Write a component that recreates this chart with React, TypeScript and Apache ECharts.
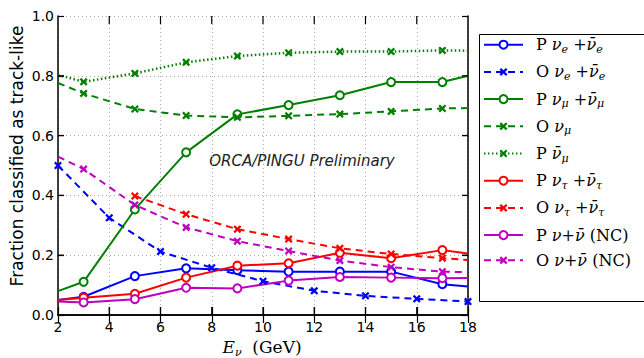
import React, { useEffect, useRef } from "react";
import * as echarts from "echarts";

// x positions
const xOdd = [2, 3, 5, 7, 9, 11, 13, 15, 17, 18];
const xEven = [2, 4, 6, 8, 10, 12, 14, 16, 18];
const xTauO = [5, 7, 9, 11, 13, 15, 17, 18];

// tick values (for inward tick marks on all four sides)
const xTicks = [4, 6, 8, 10, 12, 14, 16];
const yTicks = [0.2, 0.4, 0.6, 0.8];

// series values
const pNue = [0.05, 0.061, 0.13, 0.156, 0.15, 0.145, 0.145, 0.145, 0.103, 0.095];
const oNue = [0.5, 0.325, 0.212, 0.158, 0.113, 0.081, 0.064, 0.054, 0.045];
const pNumu = [0.08, 0.111, 0.353, 0.544, 0.671, 0.702, 0.735, 0.779, 0.779, 0.8];
const oNumu = [0.776, 0.741, 0.689, 0.667, 0.661, 0.666, 0.672, 0.681, 0.691, 0.692];
const pNumubar = [0.803, 0.78, 0.808, 0.845, 0.866, 0.877, 0.881, 0.881, 0.885, 0.884];
const pNutau = [0.05, 0.058, 0.071, 0.125, 0.165, 0.173, 0.208, 0.19, 0.217, 0.206];
const oNutau = [0.398, 0.337, 0.287, 0.254, 0.223, 0.204, 0.19, 0.184];
const pNc = [0.045, 0.042, 0.053, 0.091, 0.089, 0.115, 0.127, 0.125, 0.123, 0.124];
const oNc = [0.53, 0.488, 0.368, 0.293, 0.247, 0.214, 0.182, 0.16, 0.145, 0.143];

const legendNames = [
  "P_nue", "O_nue", "P_numu", "O_numu", "P_numubar", "P_nutau", "O_nutau", "P_nc", "O_nc",
];
const legendLabels: Record<string, string> = {
  P_nue: "{g|}{t|P }{i|ν}{s|e}{t| +}{i|ν̄}{s|e}",
  O_nue: "{g|}{t|O }{i|ν}{s|e}{t| +}{i|ν̄}{s|e}",
  P_numu: "{g|}{t|P }{i|ν}{s|μ}{t| +}{i|ν̄}{s|μ}",
  O_numu: "{g|}{t|O }{i|ν}{s|μ}",
  P_numubar: "{g|}{t|P }{i|ν̄}{s|μ}",
  P_nutau: "{g|}{t|P }{i|ν}{s|τ}{t| +}{i|ν̄}{s|τ}",
  O_nutau: "{g|}{t|O }{i|ν}{s|τ}{t| +}{i|ν̄}{s|τ}",
  P_nc: "{g|}{t|P }{i|ν}{t|+}{i|ν̄}{t| (NC)}",
  O_nc: "{g|}{t|O }{i|ν}{t|+}{i|ν̄}{t| (NC)}",
};

const X_SYMBOL =
  "path://M0,2 L2,0 L5,3 L8,0 L10,2 L7,5 L10,8 L8,10 L5,7 L2,10 L0,8 L3,5 Z";

function pairs(xs: number[], ys: number[], edgeNoSymbol: boolean) {
  return ys.map((y, i) => {
    const isEdge = i === 0 || i === ys.length - 1;
    if (edgeNoSymbol && isEdge) return { value: [xs[i], y], symbol: "none" };
    return { value: [xs[i], y] };
  });
}

const BLUE = "#0000ff";
const GREEN = "#008000";
const RED = "#ff0000";
const MAG = "#bf00bf";

function mk(name: string, color: string, data: any[], kind: "P" | "O" | "dot") {
  const base: any = {
    name,
    type: "line",
    data,
    color,
    clip: true,
    xAxisIndex: 0,
    yAxisIndex: 0,
  };
  if (kind === "P") {
    base.symbol = "emptyCircle";
    base.symbolSize = 8;
    base.itemStyle = { color, borderWidth: 2 };
    base.lineStyle = { color, width: 2, type: "solid" };
  } else {
    base.symbol = X_SYMBOL;
    base.symbolSize = 8;
    base.itemStyle = { color };
    base.lineStyle = {
      color,
      width: kind === "dot" ? 2.5 : 2,
      type: kind === "dot" ? [1.5, 2.5] : [7, 5],
    };
  }
  return base;
}

function tickSeries(data: number[][], dir: "x" | "y") {
  return {
    name: "ticks_" + dir,
    type: "custom",
    coordinateSystem: "cartesian2d",
    xAxisIndex: 0,
    yAxisIndex: 0,
    silent: true,
    clip: false,
    z: 20,
    encode: { x: 0, y: 1 },
    data,
    renderItem: (params: any, api: any) => {
      const xv = api.value(0);
      const yv = api.value(1);
      const style = { stroke: "#000", lineWidth: 1.2 };
      if (dir === "x") {
        const b = api.coord([xv, 0]);
        const t = api.coord([xv, 1]);
        return {
          type: "group",
          children: [
            { type: "line", shape: { x1: b[0], y1: b[1], x2: b[0], y2: b[1] - 8 }, style },
            { type: "line", shape: { x1: t[0], y1: t[1], x2: t[0], y2: t[1] + 8 }, style },
          ],
        };
      }
      const l = api.coord([2, yv]);
      const r = api.coord([18, yv]);
      return {
        type: "group",
        children: [
          { type: "line", shape: { x1: l[0], y1: l[1], x2: l[0] + 6, y2: l[1] }, style },
          { type: "line", shape: { x1: r[0], y1: r[1], x2: r[0] - 6, y2: r[1] }, style },
        ],
      };
    },
  };
}

export default function App() {
  const ref = useRef<HTMLDivElement>(null);
  useEffect(() => {
    if (!ref.current) return;
    document.body.style.margin = "0";
    const chart = echarts.init(ref.current, undefined, { renderer: "svg" });
    const tickFont = { fontFamily: "DejaVu Sans", fontSize: 14, color: "#000" };
    const serif = "DejaVu Serif";
    const xTickOpt = { show: true, inside: true, length: 8, lineStyle: { color: "#000", width: 1.2 } };
    const yTickOpt = { show: true, inside: true, length: 6, lineStyle: { color: "#000", width: 1.2 } };
    chart.setOption({
      animation: false,
      grid: { left: 58, right: 176, top: 16, bottom: 43 },
      xAxis: [
        {
          type: "value",
          min: 2,
          max: 18,
          interval: 2,
          position: "bottom",
          axisLine: { show: true, lineStyle: { color: "#000", width: 1.5 } },
          axisTick: xTickOpt,
          axisLabel: { ...tickFont, margin: 5, showMinLabel: true, showMaxLabel: true },
          splitLine: { show: true, lineStyle: { color: "#aaa", width: 1, type: [1, 3] } },
        },
        {
          type: "value",
          min: 2,
          max: 18,
          interval: 2,
          position: "top",
          axisLine: { show: true, lineStyle: { color: "#000", width: 1.5 } },
          axisTick: xTickOpt,
          axisLabel: { show: false },
          splitLine: { show: false },
        },
      ],
      yAxis: [
        {
          type: "value",
          min: 0,
          max: 1,
          interval: 0.2,
          position: "left",
          axisLine: { show: true, lineStyle: { color: "#000", width: 1.5 } },
          axisTick: yTickOpt,
          axisLabel: { ...tickFont, margin: 4, formatter: (v: number) => v.toFixed(1) },
          splitLine: { show: true, lineStyle: { color: "#aaa", width: 1, type: [1, 3] } },
        },
        {
          type: "value",
          min: 0,
          max: 1,
          interval: 0.2,
          position: "right",
          axisLine: { show: true, lineStyle: { color: "#000", width: 1.5 } },
          axisTick: yTickOpt,
          axisLabel: { show: false },
          splitLine: { show: false },
        },
      ],
      legend: {
        orient: "vertical",
        left: 483,
        top: 36.7,
        padding: 0,
        itemWidth: 39,
        itemHeight: 10,
        itemGap: 9.2,
        data: legendNames,
        formatter: (n: string) => legendLabels[n],
        textStyle: {
          color: "#000",
          rich: {
            g: { width: 8, lineHeight: 20 },
            t: { fontFamily: serif, fontSize: 16, lineHeight: 20, color: "#000" },
            i: { fontFamily: serif, fontStyle: "italic", fontSize: 16, lineHeight: 20, color: "#000" },
            s: {
              fontFamily: serif,
              fontStyle: "italic",
              fontSize: 11,
              lineHeight: 10,
              verticalAlign: "bottom",
              color: "#000",
            },
          },
        },
      },
      graphic: [
        {
          type: "rect",
          left: 477,
          top: 32,
          shape: { width: 200, height: 267 },
          style: { fill: "none", stroke: "#000", lineWidth: 1 },
          z: 100,
        },
        {
          type: "text",
          x: 17,
          y: 156,
          rotation: Math.PI / 2,
          style: {
            text: "Fraction classified as track-like",
            fontFamily: "DejaVu Sans",
            fontSize: 17,
            fill: "#000",
            align: "center",
            verticalAlign: "middle",
          },
        },
        {
          type: "text",
          x: 302,
          y: 161,
          style: {
            text: "ORCA/PINGU Preliminary",
            fontFamily: "DejaVu Sans",
            fontStyle: "italic",
            fontSize: 15,
            fill: "#222",
            align: "center",
            verticalAlign: "middle",
          },
        },
        {
          type: "text",
          x: 262,
          y: 347,
          style: {
            text: "{e|E}{s|ν}{t|  (GeV)}",
            align: "center",
            verticalAlign: "middle",
            rich: {
              e: { fontFamily: serif, fontStyle: "italic", fontSize: 17, lineHeight: 22, fill: "#000" },
              t: { fontFamily: serif, fontSize: 17, lineHeight: 22, fill: "#000" },
              s: {
                fontFamily: serif,
                fontStyle: "italic",
                fontSize: 11,
                lineHeight: 11,
                verticalAlign: "bottom",
                fill: "#000",
              },
            },
          },
        },
      ],
      series: [
        tickSeries(xTicks.map((x) => [x, 0]), "x"),
        tickSeries(yTicks.map((y) => [2, y]), "y"),
        mk("P_nue", BLUE, pairs(xOdd, pNue, true), "P"),
        mk("O_nue", BLUE, pairs(xEven, oNue, false), "O"),
        mk("P_numu", GREEN, pairs(xOdd, pNumu, true), "P"),
        mk("O_numu", GREEN, pairs(xOdd, oNumu, true), "O"),
        mk("P_numubar", GREEN, pairs(xOdd, pNumubar, true), "dot"),
        mk("P_nutau", RED, pairs(xOdd, pNutau, true), "P"),
        {
          ...mk("O_nutau", RED, [], "O"),
          data: oNutau.map((y, i) =>
            i === oNutau.length - 1 ? { value: [xTauO[i], y], symbol: "none" } : { value: [xTauO[i], y] }
          ),
        },
        mk("P_nc", MAG, pairs(xOdd, pNc, true), "P"),
        mk("O_nc", MAG, pairs(xOdd, oNc, true), "O"),
        {
          name: "frame",
          type: "line",
          xAxisIndex: 1,
          yAxisIndex: 1,
          data: [],
          silent: true,
        },
      ],
    });
    return () => chart.dispose();
  }, []);
  return <div ref={ref} style={{ width: 644, height: 358 }} />;
}
